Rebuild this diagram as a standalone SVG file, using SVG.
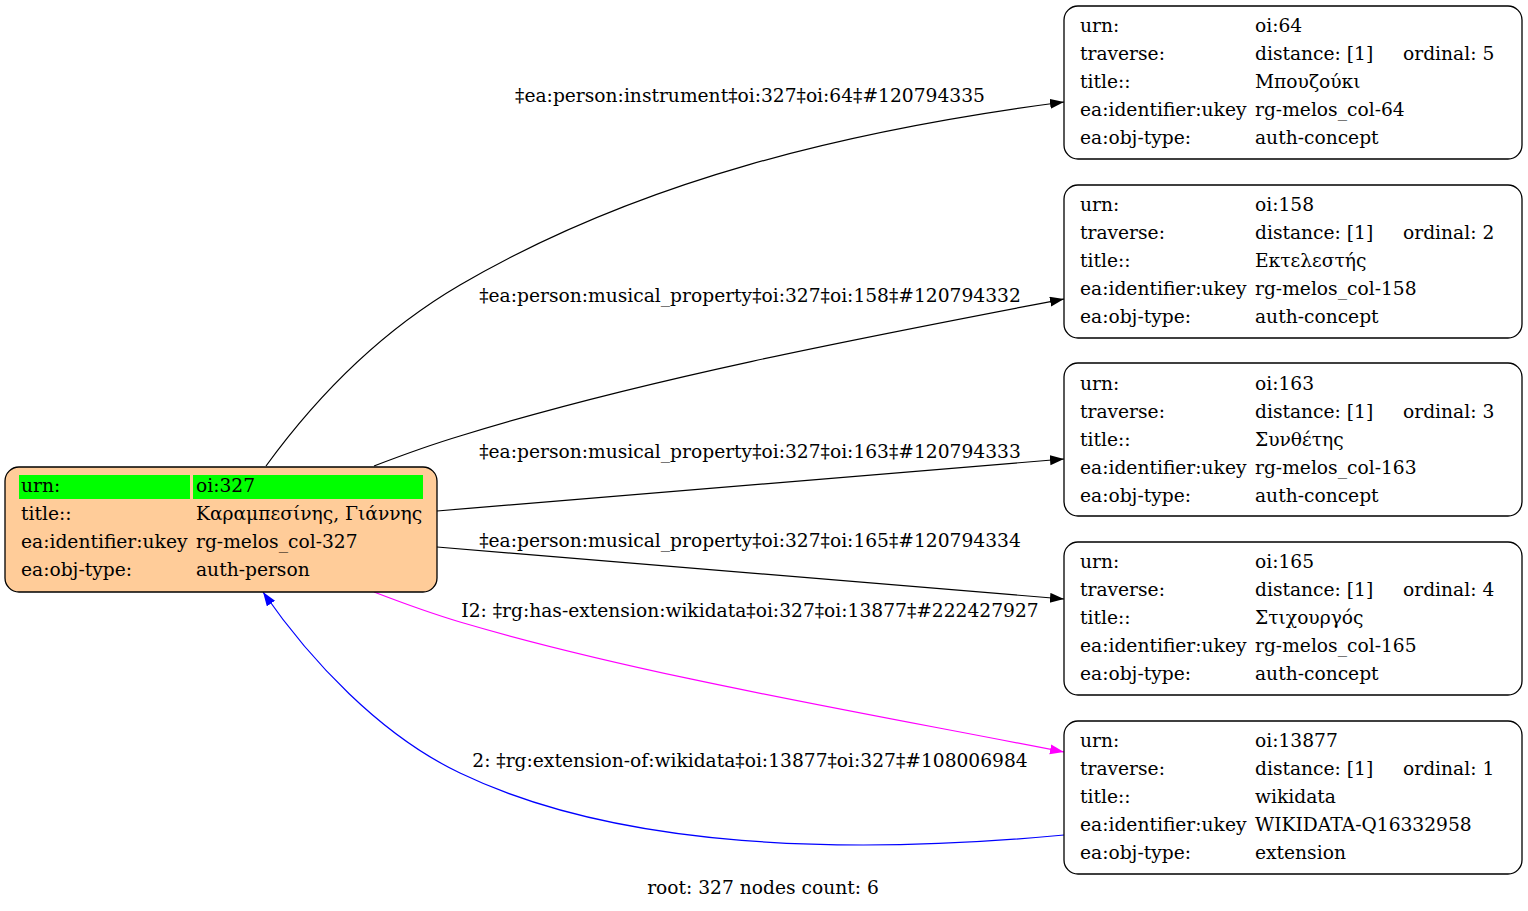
<svg xmlns="http://www.w3.org/2000/svg" width="1528" height="911" viewBox="0 0 1528 911">
<style>
text{font-family:"DejaVu Serif","Liberation Serif",serif;font-size:18.67px;fill:#000}
.box{fill:#fff;stroke:#000;stroke-width:1.3}
.root{fill:#ffcc99;stroke:#000;stroke-width:1.3}
.e{fill:none;stroke:#000;stroke-width:1.2}
.lbl{text-anchor:middle}
</style>
<defs>
<marker id="ab" markerUnits="userSpaceOnUse" markerWidth="16" markerHeight="12" refX="14" refY="5" orient="auto"><path d="M0,0 L14,5 L0,10 z" fill="#000"/></marker>
<marker id="am" markerUnits="userSpaceOnUse" markerWidth="16" markerHeight="12" refX="14" refY="5" orient="auto"><path d="M0,0 L14,5 L0,10 z" fill="#ff00ff"/></marker>
<marker id="au" markerUnits="userSpaceOnUse" markerWidth="16" markerHeight="12" refX="14" refY="5" orient="auto"><path d="M0,0 L14,5 L0,10 z" fill="#0000ff"/></marker>
</defs>
<rect width="1528" height="911" fill="#fff"/>
<g id="edges">
<path class="e" marker-end="url(#ab)" d="M266,466 C314,400 378,333 460,285 C640,180 850,130 1064,102"/>
<text class="lbl" x="750" y="102">‡ea:person:instrument‡oi:327‡oi:64‡#120794335</text>
<path class="e" marker-end="url(#ab)" d="M374,466 C400,456 430,445 460,436 C640,380 860,338 1064,299"/>
<text class="lbl" x="750" y="302">‡ea:person:musical_property‡oi:327‡oi:158‡#120794332</text>
<path class="e" marker-end="url(#ab)" d="M437,511 L1064,459"/>
<text class="lbl" x="750" y="458">‡ea:person:musical_property‡oi:327‡oi:163‡#120794333</text>
<path class="e" marker-end="url(#ab)" d="M437,547 L1064,599"/>
<text class="lbl" x="750" y="547">‡ea:person:musical_property‡oi:327‡oi:165‡#120794334</text>
<path class="e" style="stroke:#ff00ff" marker-end="url(#am)" d="M374,592 C400,602 430,613 460,622 C640,675 860,712 1064,752"/>
<text class="lbl" x="750" y="617">I2: ‡rg:has-extension:wikidata‡oi:327‡oi:13877‡#222427927</text>
<path class="e" style="stroke:#0000ff" marker-end="url(#au)" d="M1064,835 C850,855 620,850 460,773 C380,735 310,660 263,592"/>
<text class="lbl" x="750" y="767">2: ‡rg:extension-of:wikidata‡oi:13877‡oi:327‡#108006984</text>
</g>
<g id="n327">
<rect class="root" x="5" y="467" width="432" height="125" rx="14"/>
<rect x="19" y="475" width="171" height="24" fill="#00ff00"/>
<rect x="193" y="475" width="230" height="24" fill="#00ff00"/>
<text x="21" y="492">urn:</text><text x="196" y="492">oi:327</text>
<text x="21" y="520">title::</text><text x="196" y="520">Καραμπεσίνης, Γιάννης</text>
<text x="21" y="548">ea:identifier:ukey</text><text x="196" y="548">rg-melos_col-327</text>
<text x="21" y="576">ea:obj-type:</text><text x="196" y="576">auth-person</text>
</g>
<g id="n64">
<rect class="box" x="1064" y="6" width="458" height="153" rx="14"/>
<text x="1080" y="32">urn:</text><text x="1255" y="32">oi:64</text>
<text x="1080" y="60">traverse:</text><text x="1255" y="60">distance: [1]</text><text x="1403" y="60">ordinal: 5</text>
<text x="1080" y="88">title::</text><text x="1255" y="88">Μπουζούκι</text>
<text x="1080" y="116">ea:identifier:ukey</text><text x="1255" y="116">rg-melos_col-64</text>
<text x="1080" y="144">ea:obj-type:</text><text x="1255" y="144">auth-concept</text>
</g>
<g id="n158">
<rect class="box" x="1064" y="185" width="458" height="153" rx="14"/>
<text x="1080" y="211">urn:</text><text x="1255" y="211">oi:158</text>
<text x="1080" y="239">traverse:</text><text x="1255" y="239">distance: [1]</text><text x="1403" y="239">ordinal: 2</text>
<text x="1080" y="267">title::</text><text x="1255" y="267">Εκτελεστής</text>
<text x="1080" y="295">ea:identifier:ukey</text><text x="1255" y="295">rg-melos_col-158</text>
<text x="1080" y="323">ea:obj-type:</text><text x="1255" y="323">auth-concept</text>
</g>
<g id="n163">
<rect class="box" x="1064" y="363" width="458" height="153" rx="14"/>
<text x="1080" y="390">urn:</text><text x="1255" y="390">oi:163</text>
<text x="1080" y="418">traverse:</text><text x="1255" y="418">distance: [1]</text><text x="1403" y="418">ordinal: 3</text>
<text x="1080" y="446">title::</text><text x="1255" y="446">Συνθέτης</text>
<text x="1080" y="474">ea:identifier:ukey</text><text x="1255" y="474">rg-melos_col-163</text>
<text x="1080" y="502">ea:obj-type:</text><text x="1255" y="502">auth-concept</text>
</g>
<g id="n165">
<rect class="box" x="1064" y="542" width="458" height="153" rx="14"/>
<text x="1080" y="568">urn:</text><text x="1255" y="568">oi:165</text>
<text x="1080" y="596">traverse:</text><text x="1255" y="596">distance: [1]</text><text x="1403" y="596">ordinal: 4</text>
<text x="1080" y="624">title::</text><text x="1255" y="624">Στιχουργός</text>
<text x="1080" y="652">ea:identifier:ukey</text><text x="1255" y="652">rg-melos_col-165</text>
<text x="1080" y="680">ea:obj-type:</text><text x="1255" y="680">auth-concept</text>
</g>
<g id="n13877">
<rect class="box" x="1064" y="721" width="458" height="153" rx="14"/>
<text x="1080" y="747">urn:</text><text x="1255" y="747">oi:13877</text>
<text x="1080" y="775">traverse:</text><text x="1255" y="775">distance: [1]</text><text x="1403" y="775">ordinal: 1</text>
<text x="1080" y="803">title::</text><text x="1255" y="803">wikidata</text>
<text x="1080" y="831">ea:identifier:ukey</text><text x="1255" y="831">WIKIDATA-Q16332958</text>
<text x="1080" y="859">ea:obj-type:</text><text x="1255" y="859">extension</text>
</g>
<text class="lbl" x="763" y="894">root: 327 nodes count: 6</text>
</svg>
